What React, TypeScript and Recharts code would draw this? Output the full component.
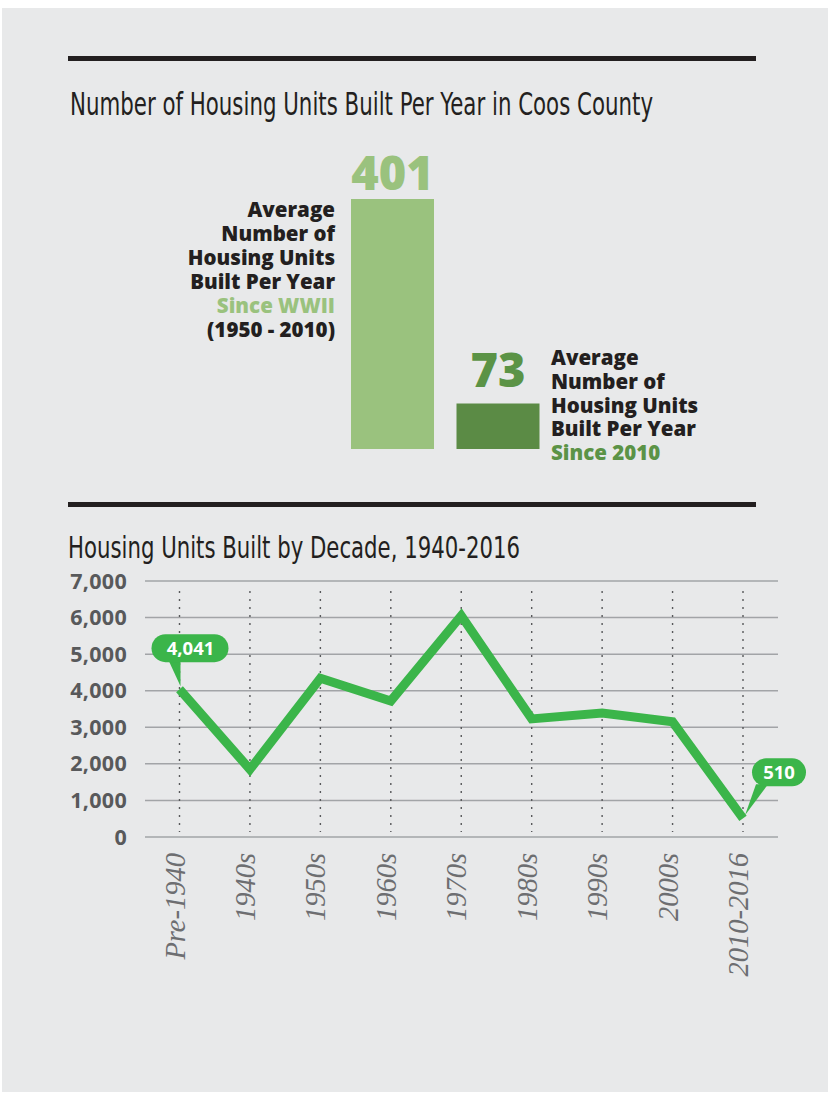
import React from 'react';
import { BarChart, Bar, Cell, XAxis, YAxis, LabelList, LineChart, Line, CartesianGrid } from 'recharts';

// top panel: average units per year
const averageLabels = ['Since WWII', 'Since 2010'];
const averageValues = [401, 73];

// bottom panel: units built by decade
const decades = ['Pre-1940', '1940s', '1950s', '1960s', '1970s', '1980s', '1990s', '2000s', '2010-2016'];
const unitsBuilt = [4041, 1850, 4340, 3720, 6050, 3230, 3390, 3150, 510];
const yTicks = [0, 1000, 2000, 3000, 4000, 5000, 6000, 7000];

const leftNote = ['Average', 'Number of', 'Housing Units', 'Built Per Year', 'Since WWII', '(1950 - 2010)'];
const rightNote = ['Average', 'Number of', 'Housing Units', 'Built Per Year', 'Since 2010'];

const INK = '#231f20';
const PANEL = '#e8e9ea';
const LIGHT = '#9ac27e';
const DARK = '#5b8b45';
const DARK_TEXT = '#5b9346';
const LINE = '#3bb54a';
const SANS = "'Open Sans', 'Noto Sans', sans-serif";
const NARROW = "'Liberation Sans Narrow', 'DejaVu Sans Condensed', sans-serif";
const SERIF = "'Liberation Serif', 'DejaVu Serif', serif";

const averageData = averageLabels.map((label, i) => ({ label, value: averageValues[i] }));
const decadeData = decades.map((name, i) => ({ name, value: unitsBuilt[i] }));

const fmt = (v: number) => v.toLocaleString('en-US');

const renderBigValue = (props: any) => {
  const { x, y, width, value, index } = props;
  const lift = index === 0 ? 9 : 16;
  return (
    <text x={x + width / 2} y={y - lift} textAnchor="middle" fill={index === 0 ? LIGHT : DARK_TEXT}
      fontSize={47} fontWeight={800} fontFamily={SANS}>
      {value}
    </text>
  );
};

const renderCallout = (props: any) => {
  const { x, y, value, index } = props;
  if (index === 0) {
    return (
      <g>
        <path d={`M${x - 11},${y - 29} L${x + 1},${y - 29} L${x + 1},${y - 3} Z`} fill={LINE} />
        <rect x={x - 28} y={y - 55} width={77} height={28} rx={14} fill={LINE} />
        <text x={x + 11} y={y - 41} dy="0.36em" textAnchor="middle" fill="#fff" fontSize={18.5} fontWeight={700} fontFamily={SANS}>
          {fmt(value)}
        </text>
      </g>
    );
  }
  if (index === unitsBuilt.length - 1) {
    return (
      <g>
        <path d={`M${x + 13},${y - 34} L${x + 25},${y - 34} L${x + 2},${y - 3} Z`} fill={LINE} />
        <rect x={x + 9} y={y - 60} width={54} height={28} rx={14} fill={LINE} />
        <text x={x + 36} y={y - 46} dy="0.36em" textAnchor="middle" fill="#fff" fontSize={18.5} fontWeight={700} fontFamily={SANS}>
          {fmt(value)}
        </text>
      </g>
    );
  }
  return null;
};

const DecadeTick = (props: any) => {
  const { x, y, payload } = props;
  return (
    <g transform={`translate(${x},${y})`}>
      <text transform="rotate(-90)" x={-16} y={5} textAnchor="end" fill="#6d6e71" fontSize={28.5}
        fontStyle="italic" fontFamily={SERIF}>
        {payload.value}
      </text>
    </g>
  );
};

const dottedVertical = (props: any) => {
  const { x1, x2, y1, y2 } = props;
  return <line x1={x1} x2={x2} y1={y1 + 10} y2={y2 - 5} stroke="#58595b" strokeWidth={1.4} strokeDasharray="2 6" />;
};

export default function App() {
  return (
    <div style={{ position: 'absolute', left: 0, top: 0, width: 832, height: 1095, background: '#fff' }}>
      <div style={{ position: 'absolute', left: 2, top: 8, width: 826, height: 1084, background: PANEL }} />

      <svg width={832} height={1095} style={{ position: 'absolute', left: 0, top: 0 }}>
        <rect x={68} y={56} width={688} height={5} fill={INK} />
        <text x={70} y={115} fontSize={32.5} textLength={583} lengthAdjust="spacingAndGlyphs" fontFamily={NARROW} fill={INK}>
          Number of Housing Units Built Per Year in Coos County
        </text>
        <rect x={68} y={502} width={688} height={5} fill={INK} />
        <text x={68} y={558} fontSize={31} textLength={452} lengthAdjust="spacingAndGlyphs" fontFamily={NARROW} fill={INK}>
          Housing Units Built by Decade, 1940-2016
        </text>

        {leftNote.map((line, i) => (
          <text key={'l' + i} x={335} y={217 + i * 24} textAnchor="end" fontSize={20.5} fontWeight={800}
            fontFamily={SANS} fill={i === 4 ? LIGHT : INK}>
            {line}
          </text>
        ))}
        {rightNote.map((line, i) => (
          <text key={'r' + i} x={551} y={365 + i * 23.75} fontSize={20.5} fontWeight={800}
            fontFamily={SANS} fill={i === 4 ? DARK_TEXT : INK}>
            {line}
          </text>
        ))}
      </svg>

      <div style={{ position: 'absolute', left: 340, top: 120 }}>
        <BarChart width={211} height={329} data={averageData} margin={{ top: 79, right: 0, bottom: 0, left: 0 }} barCategoryGap={0}>
          <XAxis dataKey="label" hide />
          <YAxis hide domain={[0, 401]} />
          <Bar dataKey="value" barSize={83} isAnimationActive={false}>
            {averageData.map((d, i) => (
              <Cell key={d.label} fill={i === 0 ? LIGHT : DARK} />
            ))}
            <LabelList dataKey="value" content={renderBigValue} />
          </Bar>
        </BarChart>
      </div>

      <div style={{ position: 'absolute', left: 0, top: 560 }}>
        <LineChart width={832} height={430} data={decadeData} margin={{ top: 21, right: 54, bottom: 0, left: 0 }}>
          <CartesianGrid stroke="#a2a4a7" strokeWidth={1.5} vertical={dottedVertical} syncWithTicks />
          <XAxis dataKey="name" interval={0} axisLine={false} tickLine={false} tickSize={0} tickMargin={0}
            padding={{ left: 34.5, right: 35 }} height={153} tick={<DecadeTick />} />
          <YAxis domain={[0, 7000]} ticks={yTicks} width={145} axisLine={false} tickLine={false}
            tickSize={0} tickMargin={18} tickFormatter={fmt}
            tick={{ fill: '#58595b', fontSize: 21.5, fontWeight: 700, fontFamily: SANS, letterSpacing: 0.3 }} />
          <Line type="linear" dataKey="value" stroke={LINE} strokeWidth={9} dot={false} isAnimationActive={false}>
            <LabelList dataKey="value" content={renderCallout} />
          </Line>
        </LineChart>
      </div>
    </div>
  );
}
